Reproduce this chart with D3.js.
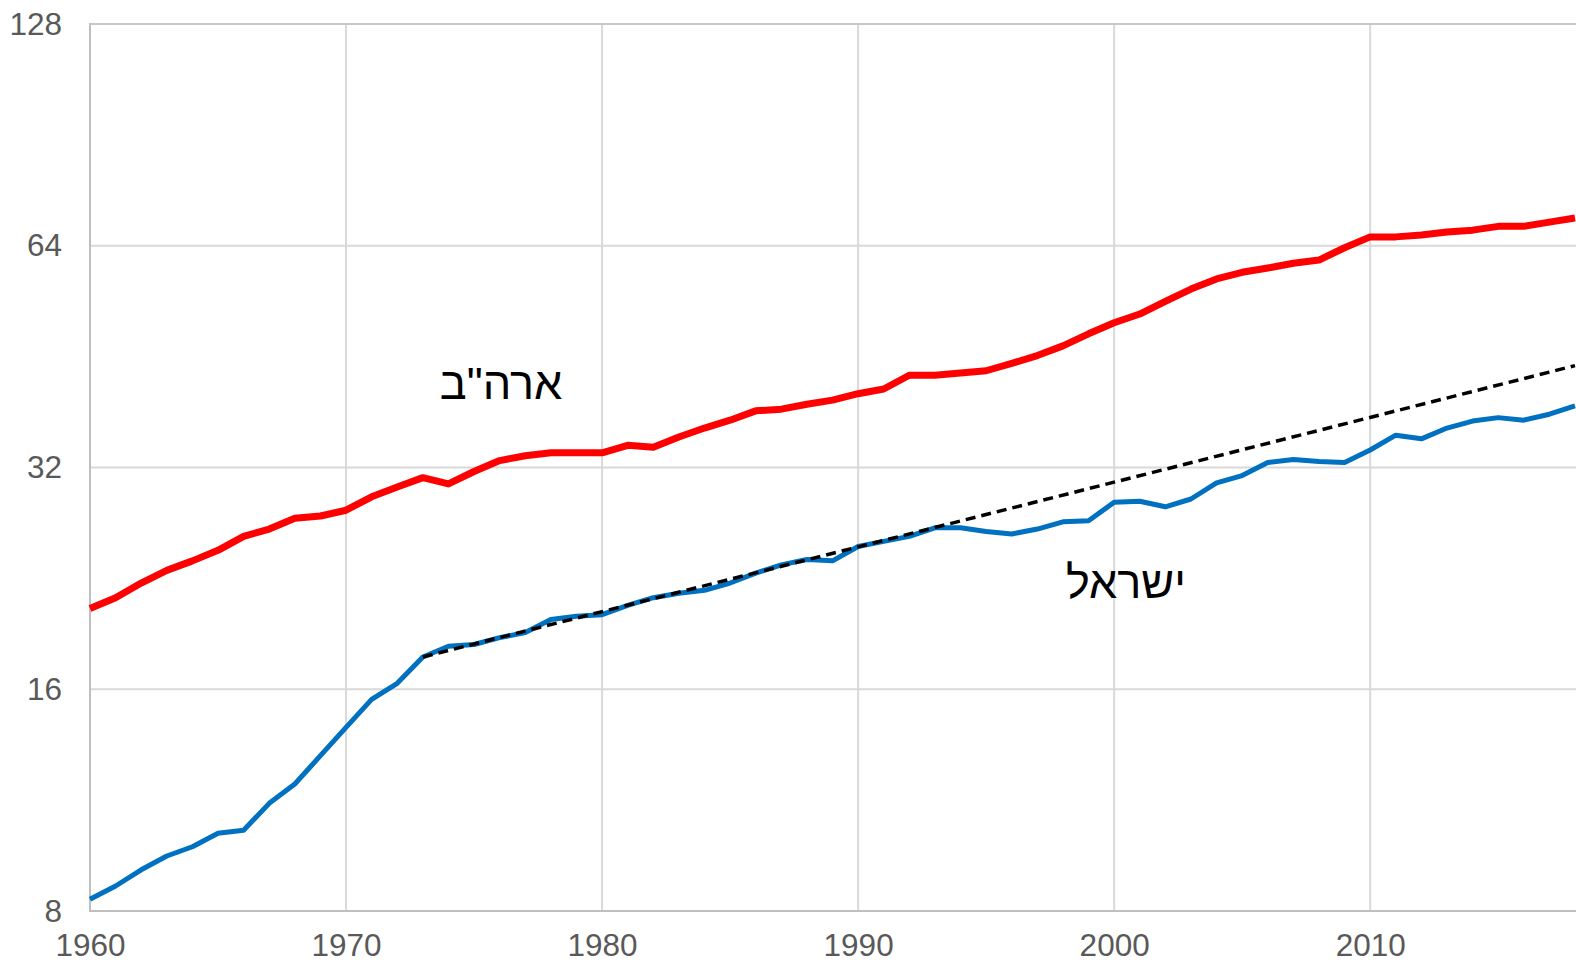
<!DOCTYPE html>
<html lang="he">
<head>
<meta charset="utf-8">
<title>Israel vs USA</title>
<script src="https://cdn.jsdelivr.net/npm/d3@7"></script>
<style>
body { margin: 0; background: #fff; }
.tick text { font-family: "Liberation Sans", Arial, sans-serif; fill: #595959; font-size: 31.5px; }
.lbl { font-family: "Liberation Sans", Arial, sans-serif; font-size: 45px; fill: #000; }
</style>
</head>
<body>
<script>

// years and series values
var years = d3.range(1960, 2019);

var usa = [20.6, 21.3, 22.3, 23.2, 23.9, 24.7, 25.8, 26.4, 27.3, 27.5,
           28.0, 29.2, 30.1, 31.0, 30.4, 31.6, 32.7, 33.2, 33.5, 33.5,
           33.5, 34.3, 34.1, 35.2, 36.2, 37.1, 38.2, 38.4, 39.0, 39.5,
           40.3, 40.9, 42.7, 42.7, 43.0, 43.3, 44.3, 45.4, 46.8, 48.6,
           50.3, 51.7, 53.8, 55.9, 57.7, 58.9, 59.7, 60.6, 61.2, 63.6,
           65.8, 65.8, 66.2, 66.8, 67.2, 68.0, 68.0, 68.9, 69.8];

var israel = [8.3, 8.65, 9.1, 9.5, 9.78, 10.2, 10.3, 11.2, 11.9, 13.0,
              14.2, 15.5, 16.3, 17.7, 18.3, 18.4, 18.8, 19.1, 19.9, 20.1,
              20.2, 20.8, 21.3, 21.6, 21.8, 22.3, 23.0, 23.6, 24.0, 23.9,
              25.0, 25.4, 25.8, 26.5, 26.5, 26.2, 26.0, 26.4, 27.0, 27.1,
              28.7, 28.8, 28.3, 29.0, 30.5, 31.2, 32.5, 32.8, 32.6, 32.5,
              33.8, 35.4, 35.0, 36.2, 37.0, 37.4, 37.1, 37.8, 38.8];

// trend line from 1973 (straight on log scale)
var trendYears = [1973, 2018];
var trendValues = [17.7, 44.0];

var yTicks = [8, 16, 32, 64, 128];
var xTicks = [1960, 1970, 1980, 1990, 2000, 2010];

var W = 1576, H = 969;
var mLeft = 90, mTop = 24, mBottom = 911, mRight = 1576;

var svg = d3.select("body").append("svg")
  .attr("width", W)
  .attr("height", H);

var x = d3.scaleLinear().domain([1960, 2018]).range([mLeft, 1575]);
var y = d3.scaleLog().base(2).domain([8, 128]).range([mBottom, mTop]);

// gridlines
svg.append("g")
  .selectAll("line")
  .data(yTicks)
  .enter().append("line")
  .attr("x1", mLeft).attr("x2", mRight)
  .attr("y1", function(d) { return y(d); })
  .attr("y2", function(d) { return y(d); })
  .attr("stroke", "#d9d9d9").attr("stroke-width", 2);

svg.append("g")
  .selectAll("line")
  .data(xTicks.slice(1))
  .enter().append("line")
  .attr("y1", mTop).attr("y2", mBottom)
  .attr("x1", function(d) { return x(d); })
  .attr("x2", function(d) { return x(d); })
  .attr("stroke", "#d9d9d9").attr("stroke-width", 2);

// axis lines
svg.append("line").attr("x1", mLeft).attr("x2", mLeft).attr("y1", mTop - 1).attr("y2", mBottom + 1)
  .attr("stroke", "#bfbfbf").attr("stroke-width", 2);
svg.append("line").attr("x1", mLeft).attr("x2", mRight).attr("y1", mBottom).attr("y2", mBottom)
  .attr("stroke", "#bfbfbf").attr("stroke-width", 2);
svg.append("line").attr("x1", mLeft).attr("x2", mRight).attr("y1", mTop).attr("y2", mTop)
  .attr("stroke", "#c8c8c8").attr("stroke-width", 2);

// tick labels
var yAxis = d3.axisLeft(y).tickValues(yTicks).tickFormat(d3.format("d")).tickSize(0).tickPadding(28);
var gy = svg.append("g").attr("transform", "translate(" + mLeft + ",0)").call(yAxis);
gy.select(".domain").remove();

var xAxis = d3.axisBottom(x).tickValues(xTicks).tickFormat(d3.format("d")).tickSize(0).tickPadding(23);
var gx = svg.append("g").attr("transform", "translate(0," + mBottom + ")").call(xAxis);
gx.select(".domain").remove();

// lines
var line = d3.line()
  .x(function(d) { return x(d[0]); })
  .y(function(d) { return y(d[1]); });

svg.append("path")
  .datum(d3.zip(years, usa))
  .attr("d", line)
  .attr("fill", "none")
  .attr("stroke", "#ff0000")
  .attr("stroke-width", 7)
  .attr("stroke-linejoin", "round");

svg.append("path")
  .datum(d3.zip(years, israel))
  .attr("d", line)
  .attr("fill", "none")
  .attr("stroke", "#0070c0")
  .attr("stroke-width", 5)
  .attr("stroke-linejoin", "round");

svg.append("path")
  .datum(d3.zip(trendYears, trendValues))
  .attr("d", line)
  .attr("fill", "none")
  .attr("stroke", "#000")
  .attr("stroke-width", 3.5)
  .attr("stroke-dasharray", "10,6");

// series labels
svg.append("text").attr("class", "lbl")
  .attr("x", 501).attr("y", 399)
  .attr("text-anchor", "middle")
  .text("ארה\"ב");

svg.append("text").attr("class", "lbl")
  .attr("x", 1126).attr("y", 598)
  .attr("text-anchor", "middle")
  .text("ישראל");

</script>
</body>
</html>
